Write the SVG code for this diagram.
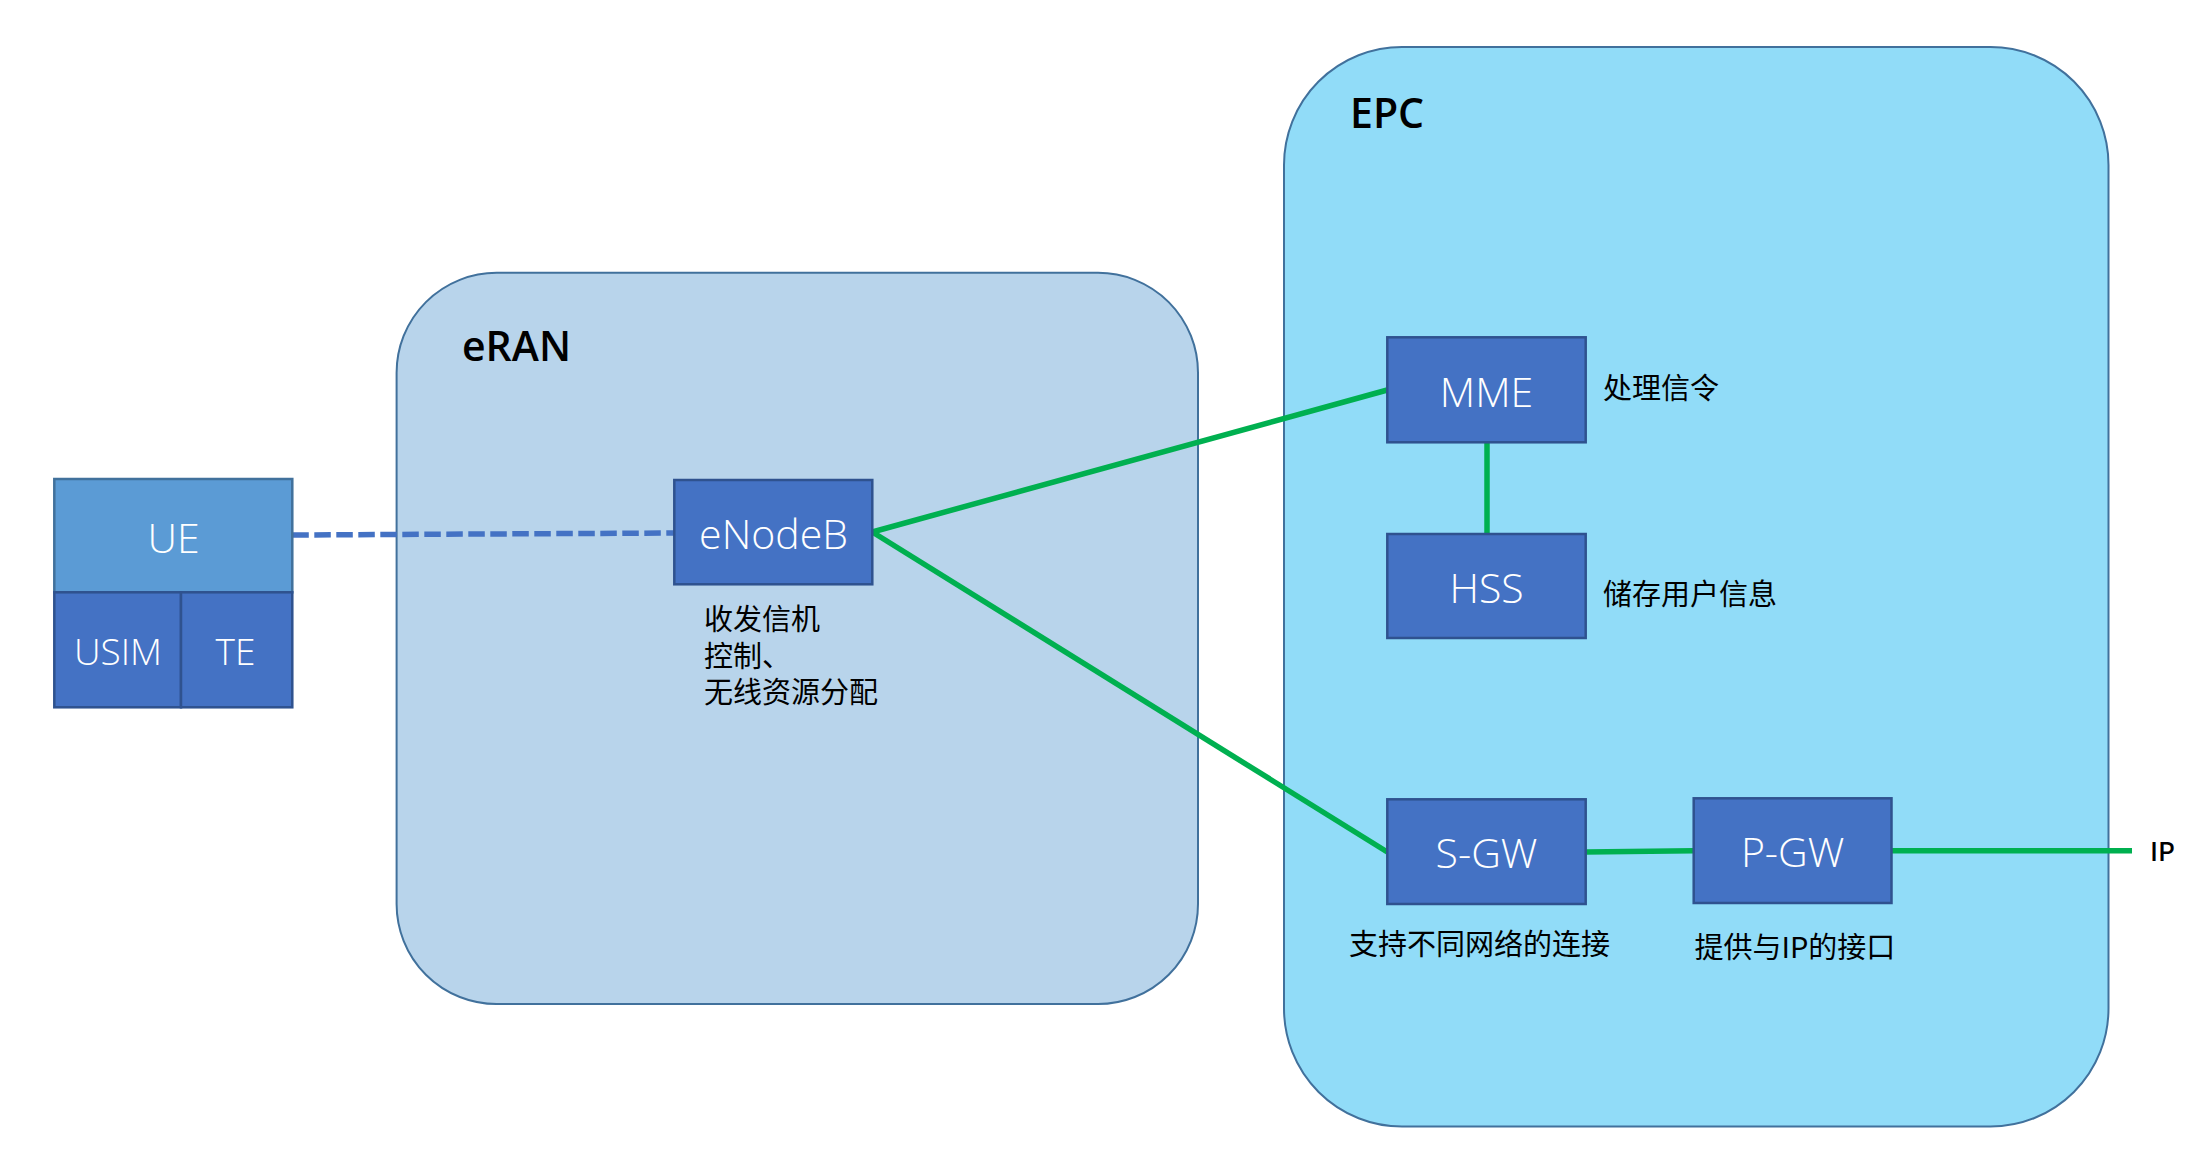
<svg xmlns="http://www.w3.org/2000/svg" width="2205" height="1168" viewBox="0 0 2205 1168">
<style>
.container{stroke:#41719C;stroke-width:2}
.box{fill:#4472C4;stroke:#2F528F;stroke-width:2.5}
.lbl{font-family:"Open Sans","Noto Sans",sans-serif;font-weight:300;fill:#FFFFFF;text-anchor:middle}
.title{font-family:"Open Sans","Noto Sans",sans-serif;font-weight:600;font-size:41px;fill:#000000}
.cn{font-family:"Noto Sans CJK SC","Noto Sans",sans-serif;font-size:29px;fill:#000000}
.green{stroke:#00B050;stroke-width:5.5;fill:none}
</style>
<rect width="2205" height="1168" fill="#FFFFFF"/>
<g id="eRAN">
<rect class="container" x="396.6" y="272.8" width="801.4" height="731.2" rx="100" ry="100" fill="#B8D4EB"/>
<text class="title" x="462" y="360.7">eRAN</text>
</g>
<g id="EPC">
<rect class="container" x="1284" y="47" width="824.5" height="1079.5" rx="118" ry="118" fill="#91DCF8"/>
<text class="title" x="1350" y="128">EPC</text>
</g>
<g id="connectors">
<line x1="292.3" y1="535" x2="674.3" y2="533" stroke="#4472C4" stroke-width="5.5" stroke-dasharray="16.5,5.5"/>
<line class="green" x1="872.3" y1="532" x2="1387.3" y2="390"/>
<line class="green" x1="872.3" y1="532" x2="1387.3" y2="852"/>
<line class="green" x1="1487" y1="442.3" x2="1487" y2="534"/>
<line class="green" x1="1585.7" y1="852" x2="1693.7" y2="850.7"/>
<line class="green" x1="1891.5" y1="850.7" x2="2132" y2="850.7"/>
</g>
<g id="UE">
<rect x="54.3" y="479" width="238" height="113.3" fill="#5B9BD5" stroke="#41719C" stroke-width="2.5"/>
<text class="lbl" x="173.5" y="553" font-size="41">UE</text>
</g>
<g id="USIM">
<rect class="box" x="54.3" y="592.3" width="126.7" height="115"/>
<text class="lbl" x="118" y="665" font-size="37">USIM</text>
</g>
<g id="TE">
<rect class="box" x="181" y="592.3" width="111.3" height="115"/>
<text class="lbl" x="235.5" y="665" font-size="37">TE</text>
</g>
<g id="eNodeB">
<rect class="box" x="674.3" y="480" width="198" height="104.3"/>
<text class="lbl" x="773.5" y="549" font-size="41">eNodeB</text>
<text class="cn" x="704" y="630">收发信机<tspan x="704" y="667">控制、</tspan><tspan x="704" y="702.7">无线资源分配</tspan></text>
</g>
<g id="MME">
<rect class="box" x="1387.3" y="337.3" width="198.4" height="105"/>
<text class="lbl" x="1486.5" y="406.7" font-size="41">MME</text>
<text class="cn" x="1603" y="399.4">处理信令</text>
</g>
<g id="HSS">
<rect class="box" x="1387.3" y="534" width="198.4" height="104"/>
<text class="lbl" x="1486.5" y="602.5" font-size="41">HSS</text>
<text class="cn" x="1603" y="605">储存用户信息</text>
</g>
<g id="S-GW">
<rect class="box" x="1387.3" y="799.3" width="198.4" height="104.7"/>
<text class="lbl" x="1486.5" y="868" font-size="41">S-GW</text>
<text class="cn" x="1349" y="954.5">支持不同网络的连接</text>
</g>
<g id="P-GW">
<rect class="box" x="1693.7" y="798.3" width="197.8" height="104.7"/>
<text class="lbl" x="1792.6" y="867" font-size="41">P-GW</text>
<text class="cn" x="1694.5" y="957.7">提供与IP的接口</text>
</g>
<g id="IP">
<text x="2150" y="861" font-family="Noto Sans CJK SC, Noto Sans, sans-serif" font-size="26" font-weight="500" fill="#000000">IP</text>
</g>
</svg>
